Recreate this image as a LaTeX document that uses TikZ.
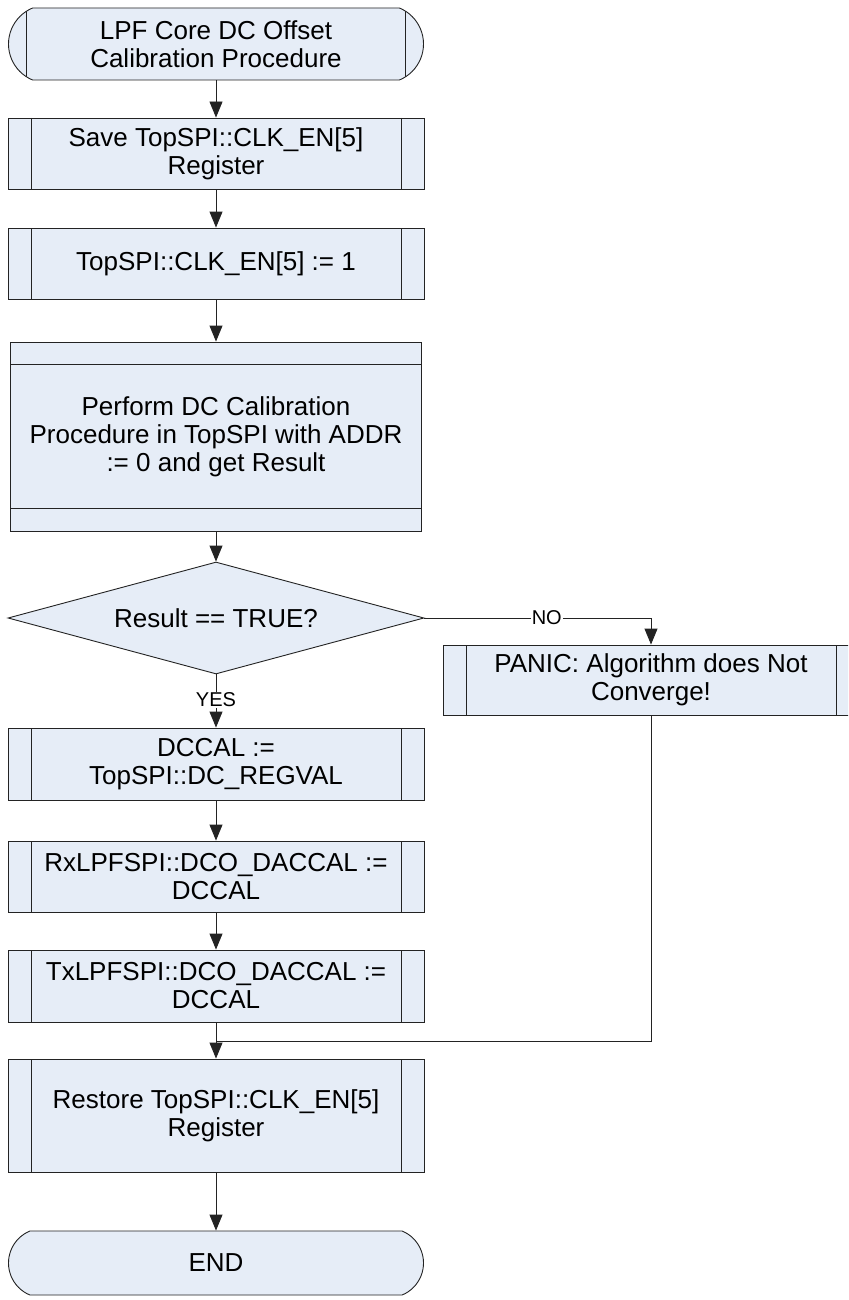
\documentclass[tikz,border=0pt]{standalone}
\usepackage{fontspec}
\setmainfont{Liberation Sans}
\usetikzlibrary{shapes.geometric,shapes.misc,arrows.meta}
\definecolor{boxblue}{RGB}{230,237,247}
\definecolor{edgegray}{RGB}{35,35,35}

\begin{document}
\begin{tikzpicture}[x=1pt,y=-1pt,
        base/.style={draw=edgegray,fill=boxblue,line width=0.9pt,align=center,
            inner sep=0pt,font=\fontsize{26}{28}\selectfont},
        sub/.style={base,rectangle,minimum width=416pt,minimum height=72pt,
            path picture={
                \draw[edgegray,line width=0.9pt]
                    ([xshift=23pt]path picture bounding box.north west) -- ([xshift=23pt]path picture bounding box.south west)
                    ([xshift=-23pt]path picture bounding box.north east) -- ([xshift=-23pt]path picture bounding box.south east);}},
        term/.style={base,rounded rectangle,rounded rectangle arc length=135,
            minimum width=415pt,minimum height=72pt},
        block/.style={base,rectangle,minimum width=411pt,minimum height=189pt,
            path picture={
                \draw[edgegray,line width=0.9pt]
                    ([yshift=-22pt]path picture bounding box.north west) -- ([yshift=-22pt]path picture bounding box.north east)
                    ([yshift=23pt]path picture bounding box.south west) -- ([yshift=23pt]path picture bounding box.south east);}},
        test/.style={base,diamond,aspect=3.7,minimum width=416pt,minimum height=112pt},
        flow/.style={draw=edgegray,line width=0.9pt,-{Triangle[width=13pt,length=16pt]}},
        wire/.style={draw=edgegray,line width=0.9pt},
        tag/.style={fill=white,inner sep=1pt,font=\fontsize{20}{22}\selectfont}]
        \clip (0,0) rectangle (848,1300);
        \fill[white] (0,0) rectangle (848,1300);

        \node[term,
            path picture={
                \draw[edgegray,line width=0.9pt]
                    ([xshift=23pt]path picture bounding box.north west) -- ([xshift=23pt]path picture bounding box.south west)
                    ([xshift=-23pt]path picture bounding box.north east) -- ([xshift=-23pt]path picture bounding box.south east);}]
            (start) at (216,44) {LPF Core DC Offset\\Calibration Procedure};
        \node[sub,minimum height=71pt] (save) at (216,153.5) {Save TopSPI::CLK\_EN[5]\\Register};
        \node[sub,minimum height=71pt] (clken) at (216,263.5) {TopSPI::CLK\_EN[5] := 1};
        \node[block] (perform) at (216,436.5) {Perform DC Calibration\\Procedure in TopSPI with ADDR\\:= 0 and get Result};
        \node[test] (result) at (216,618) {Result == TRUE?};
        \node[sub,minimum height=70pt] (panic) at (651,680) {PANIC: Algorithm does Not\\Converge!};
        \node[sub] (dccal) at (216,764) {DCCAL :=\\TopSPI::DC\_REGVAL};
        \node[sub,minimum height=71pt] (rxcal) at (216,876.5) {RxLPFSPI::DCO\_DACCAL :=\\DCCAL};
        \node[sub] (txcal) at (216,986) {TxLPFSPI::DCO\_DACCAL :=\\DCCAL};
        \node[sub,minimum height=113pt] (restore) at (216,1115.5) {Restore TopSPI::CLK\_EN[5]\\Register};
        \node[term,minimum height=64pt] (finish) at (216,1263) {END};
        \coordinate (merge) at (216,1041);

        \draw[flow] (start.south) -- (save.north);
        \draw[flow] (save.south) -- (clken.north);
        \draw[flow] (clken.south) -- (perform.north);
        \draw[flow] (perform.south) -- (result.north);
        \draw[flow] (result.south) -- node[tag,pos=0.48] {YES} (dccal.north);
        \draw[flow] (result.east) -| node[tag,pos=0.27] {NO} (panic.north);
        \draw[flow] (dccal.south) -- (rxcal.north);
        \draw[flow] (rxcal.south) -- (txcal.north);
        \draw[flow] (txcal.south) -- (restore.north);
        \draw[wire] (panic.south) |- (merge);
        \draw[flow] (restore.south) -- (finish.north);
\end{tikzpicture}
\end{document}
